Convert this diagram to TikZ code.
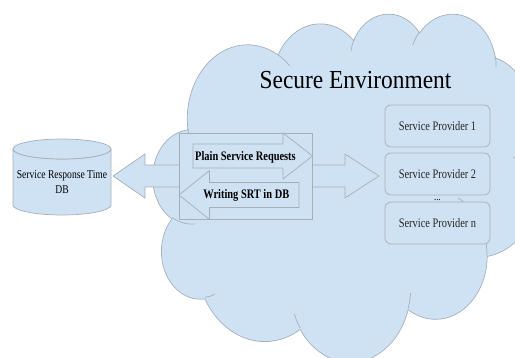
\documentclass[tikz,border=0pt]{standalone}
\usepackage{fontspec}
\setmainfont{Liberation Serif}[FakeStretch=0.8]
\newfontfamily\titlefont{Liberation Serif}[FakeStretch=0.9]
\definecolor{fillblue}{HTML}{CFE2F3}
\definecolor{edgegray}{HTML}{A5AFB9}
\newcommand\cloudconv[5]{%
  \pgfmathsetmacro\cctA{atan2((#2)*sin(#4),(#3)*cos(#4))}%
  \pgfmathsetmacro\cctB{atan2((#2)*sin((#4)+(#5)),(#3)*cos((#4)+(#5)))}%
  \pgfmathsetmacro\cctD{\cctB-\cctA}%
  \pgfmathsetmacro\cctD{\cctD-360*round((\cctD-(#5))/360)}%
  \expandafter\xdef\csname cls#1\endcsname{\cctA}%
  \expandafter\xdef\csname cld#1\endcsname{\cctD}%
}
\begin{document}
\begin{tikzpicture}[x=1pt,y=-1pt,
  shapestyle/.style={fill=fillblue,draw=edgegray,line width=0.7pt,line join=round},
  innerline/.style={draw=edgegray,line width=0.7pt},
  spbox/.style={shapestyle,rounded corners=6pt,minimum width=105pt,minimum height=42pt,inner sep=0pt,
    text=black!85,font=\fontsize{13}{15}\selectfont},
  arrowtext/.style={inner sep=0pt,font=\fontsize{13}{15}\selectfont\bfseries},
  titletext/.style={inner sep=0pt,font=\titlefont\fontsize{26}{30}\selectfont},
  dbtext/.style={inner sep=0pt,align=center,font=\fontsize{12}{14.5}\selectfont},
  dotstext/.style={inner sep=0pt,font=\fontsize{11}{13}\selectfont}]
\useasboundingbox (0,0) rectangle (515,358);
\clip (0,0) rectangle (515,358);
% cloud angle conversions (OOXML visual angles -> parametric)
\cloudconv{A}{6.753}{9.19}{-190.4875}{123.7805}
\cloudconv{B}{5.333}{7.267}{-144.1024}{89.9452}
\cloudconv{C}{4.365}{5.945}{-145.8079}{99.7230}
\cloudconv{D}{4.857}{6.595}{-130.9861}{117.2417}
\cloudconv{E}{5.333}{7.273}{-78.7089}{109.0269}
\cloudconv{F}{6.775}{9.22}{-46.2673}{130.269}
\cloudconv{G}{5.785}{7.867}{0.625}{114.0333}
\cloudconv{H}{6.752}{9.215}{22.4516}{115.1726}
\cloudconv{I}{7.72}{10.543}{66.2426}{75.7110}
\cloudconv{J}{4.36}{5.918}{-274.9421}{146.7356}
\cloudconv{K}{4.345}{5.945}{-246.8285}{152.5189}
\cloudconv{a}{4.345}{5.945}{86.742}{26.4295}
\cloudconv{b}{4.36}{5.918}{73.6105}{11.4475}
\cloudconv{c}{6.752}{9.215}{137.6242}{14.0811}
\cloudconv{d}{6.752}{9.215}{6.4533}{15.9984}
\cloudconv{e}{5.785}{7.867}{-70.2924}{70.9174}
\cloudconv{f}{5.333}{7.273}{30.318}{27.7515}
\cloudconv{g}{4.857}{6.595}{-13.7443}{14.8534}
\cloudconv{h}{4.857}{6.595}{-149.1815}{18.1876}
\cloudconv{i}{4.365}{5.945}{-163.4943}{17.6877}
\cloudconv{j}{6.753}{9.19}{-66.707}{12.3194}
\cloudconv{k}{6.753}{9.19}{157.6544}{11.8582}
% cloud
\begin{scope}[shift={(153,13)},xscale=8.935,yscale=8.06]
\draw[shapestyle] (3.9,14.37)
  arc[x radius=6.753,y radius=9.19,start angle=\clsA,delta angle=\cldA]
  arc[x radius=5.333,y radius=7.267,start angle=\clsB,delta angle=\cldB]
  arc[x radius=4.365,y radius=5.945,start angle=\clsC,delta angle=\cldC]
  arc[x radius=4.857,y radius=6.595,start angle=\clsD,delta angle=\cldD]
  arc[x radius=5.333,y radius=7.273,start angle=\clsE,delta angle=\cldE]
  arc[x radius=6.775,y radius=9.22,start angle=\clsF,delta angle=\cldF]
  arc[x radius=5.785,y radius=7.867,start angle=\clsG,delta angle=\cldG]
  arc[x radius=6.752,y radius=9.215,start angle=\clsH,delta angle=\cldH]
  arc[x radius=7.72,y radius=10.543,start angle=\clsI,delta angle=\cldI]
  arc[x radius=4.36,y radius=5.918,start angle=\clsJ,delta angle=\cldJ]
  arc[x radius=4.345,y radius=5.945,start angle=\clsK,delta angle=\cldK]
  -- cycle;
\draw[innerline]
  (4.693,26.177) arc[x radius=4.345,y radius=5.945,start angle=\clsa,delta angle=\clda]
  (6.928,34.899) arc[x radius=4.36,y radius=5.918,start angle=\clsb,delta angle=\cldb]
  (16.478,39.09) arc[x radius=6.752,y radius=9.215,start angle=\clsc,delta angle=\cldc]
  (28.827,34.751) arc[x radius=6.752,y radius=9.215,start angle=\clsd,delta angle=\cldd]
  (34.129,22.954) arc[x radius=5.785,y radius=7.867,start angle=\clse,delta angle=\clde]
  (41.798,15.354) arc[x radius=5.333,y radius=7.273,start angle=\clsf,delta angle=\cldf]
  (38.324,5.426) arc[x radius=4.857,y radius=6.595,start angle=\clsg,delta angle=\cldg]
  (29.078,3.952) arc[x radius=4.857,y radius=6.595,start angle=\clsh,delta angle=\cldh]
  (22.141,4.72) arc[x radius=4.365,y radius=5.945,start angle=\clsi,delta angle=\cldi]
  (14.0,5.192) arc[x radius=6.753,y radius=9.19,start angle=\clsj,delta angle=\cldj]
  (4.127,15.789) arc[x radius=6.753,y radius=9.19,start angle=\clsk,delta angle=\cldk];
\end{scope}
% database cylinder
\draw[shapestyle] (13,149) -- (13,205) arc[start angle=180,end angle=0,x radius=49,y radius=10] -- (111,149)
  arc[start angle=0,end angle=180,x radius=49,y radius=10] -- cycle;
\draw[shapestyle] (62,149) ellipse[x radius=49,y radius=10];
\node[dbtext] (db) at (62,182) {Service Response Time\\DB};
% big double arrow
\draw[shapestyle] (113,176) -- (145,154) -- (145,165) -- (345,165) -- (345,154) -- (379,176)
  -- (345,198) -- (345,187) -- (145,187) -- (145,198) -- cycle;
% group frame
\draw[shapestyle] (179,133) rectangle (312.5,219.5);
% plain service requests arrow
\draw[shapestyle] (193,144) -- (283,144) -- (283,133) -- (312.5,156) -- (283,179) -- (283,168) -- (193,168) -- cycle;
% writing SRT arrow
\draw[shapestyle] (179,195) -- (209.5,170.5) -- (209.5,182.5) -- (299,182.5) -- (299,207.5) -- (209.5,207.5)
  -- (209.5,219.5) -- cycle;
\node[arrowtext,anchor=base] (plain) at (245.5,160.5) {Plain Service Requests};
\node[arrowtext,anchor=base] (writing) at (246.3,198.5) {Writing SRT in DB};
% service providers
\node[dotstext,anchor=base] (dots) at (437.5,200.5) {...};
\node[spbox] (sp1) at (437.5,126) {Service Provider 1};
\node[spbox] (sp2) at (437.5,174) {Service Provider 2};
\node[spbox] (spn) at (437.5,223) {Service Provider n};
% title
\node[titletext,anchor=base] (title) at (355.5,89) {Secure Environment};
\end{tikzpicture}
\end{document}
